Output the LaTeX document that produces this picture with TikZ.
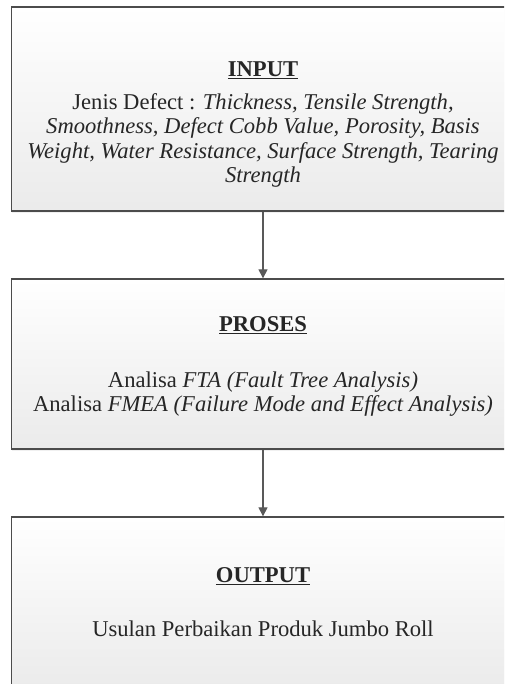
\documentclass[tikz,border=0pt]{standalone}
\usepackage{fontspec}
\setmainfont{Liberation Serif}
\usetikzlibrary{arrows.meta,shadows}
\tikzset{
  blok/.style={draw=black!70, line width=1.3pt, top color=white, bottom color=black!8, minimum width=527pt, inner sep=0pt,
    drop shadow={opacity=0.12, shadow xshift=0pt, shadow yshift=-2.5pt}},
  judul/.style={anchor=base, font=\fontsize{22.6}{24.5}\selectfont\bfseries, text=black!85},
  isi/.style={anchor=base, align=center, font=\fontsize{22.6}{24.5}\selectfont, text=black!85},
  panah/.style={draw=black!65, line width=1.2pt, -{Triangle[width=9pt,length=9pt]}}
}

\begin{document}
\begin{tikzpicture}[x=1pt,y=1pt]
\useasboundingbox (0,0) rectangle (504,684);
\clip (0,0) rectangle (504,684);
%%Box
\node[blok, minimum height=204pt] (input) at (275,575) {};
\node[blok, minimum height=170pt] (proses) at (275,320) {};
\node[blok, minimum height=173pt] (output) at (275,80.5) {};

%%Label
\node[judul] (inputjudul) at (263,607) {\underline{INPUT}};
\node[isi] (inputisi) at (263,501) {Jenis Defect : \textit{Thickness, Tensile Strength,}\\
  \textit{Smoothness, Defect Cobb Value, Porosity, Basis}\\
  \textit{Weight, Water Resistance, Surface Strength, Tearing}\\
  \textit{Strength}};
\node[judul] (prosesjudul) at (263,352) {\underline{PROSES}};
\node[isi] (prosesisi) at (263,272) {Analisa \textit{FTA (Fault Tree Analysis)}\\
  Analisa \textit{FMEA (Failure Mode and Effect Analysis)}};
\node[judul] (outputjudul) at (263,101) {\underline{OUTPUT}};
\node[isi] (outputisi) at (263,47) {Usulan Perbaikan Produk Jumbo Roll};

%%Arrow
\draw[panah] (input.south -| inputjudul) -- (proses.north -| inputjudul);
\draw[panah] (proses.south -| inputjudul) -- (output.north -| inputjudul);
\end{tikzpicture}
\end{document}
